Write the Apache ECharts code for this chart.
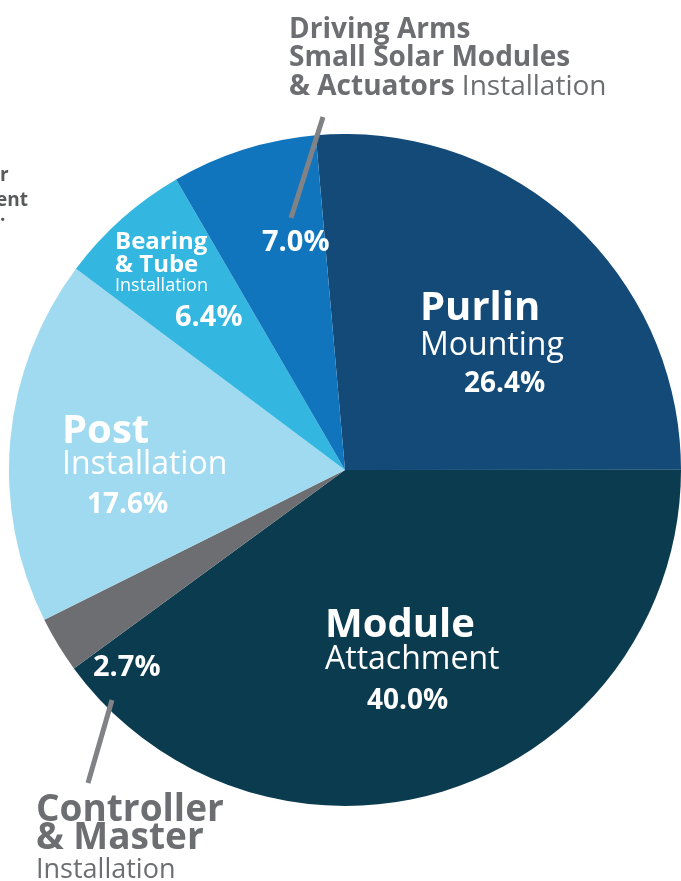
<!DOCTYPE html>
<html>
<head>
<meta charset="utf-8">
<script src="https://cdn.jsdelivr.net/npm/echarts@6/dist/echarts.min.js"></script>
<style>
html,body{margin:0;padding:0;background:#ffffff;}
#chart{width:681px;height:881px;}
</style>
</head>
<body>
<div id="chart"></div>
<script>
// ---- data ----
const categories = ['Purlin Mounting', 'Module Attachment', 'Controller & Master Installation', 'Post Installation', 'Bearing & Tube Installation', 'Driving Arms Small Solar Modules & Actuators Installation'];
const shares = [26.4, 40.0, 2.7, 17.6, 6.4, 7.0];
const titleWords = ['Purlin', 'Module', '', 'Post', 'Bearing\n& Tube', ''];
const subWords = ['Mounting', 'Attachment', '', 'Installation', 'Installation', ''];
const drivingLabel = ['Driving Arms', 'Small Solar Modules', '& Actuators', 'Installation'];
const controllerLabel = ['Controller', '& Master', 'Installation'];
const partialLabel = ['r', 'ent', '.'];
const sliceColors = ['#134a78', '#0a3b4f', '#6d6e71', '#a0daf0', '#33b7e0', '#1175be'];

// ---- styles / layout ----
const FF = '"Open Sans", "Noto Sans", sans-serif';
const GRAY = '#6d6e71';
const labelPos = [
  { x: 420, y: 289 },
  { x: 325, y: 607 },
  { x: 93, y: 654 },
  { x: 62, y: 414 },
  { x: 115, y: 231 },
  { x: 262, y: 229 }
];
function big(lh) { return { fontFamily: FF, fontWeight: 'bold', fontSize: 40, color: '#fff', lineHeight: lh }; }
function sub(lh) { return { fontFamily: FF, fontSize: 32, color: '#fff', lineHeight: lh }; }
function pct(lh, pad) { return { fontFamily: FF, fontWeight: 'bold', fontSize: 28, color: '#fff', lineHeight: lh, padding: [0, 0, 0, pad] }; }

const rich = {
  t0: big(40), s0: sub(34), p0: pct(42, 44),
  t1: big(38), s1: sub(30), p1: pct(52, 42),
  t3: big(36), s3: sub(30), p3: pct(50, 25),
  bt: { fontFamily: FF, fontWeight: 'bold', fontSize: 24, color: '#fff', lineHeight: 23 },
  bs: { fontFamily: FF, fontSize: 18, color: '#fff', lineHeight: 17 },
  p4: { fontFamily: FF, fontWeight: 'bold', fontSize: 29, color: '#fff', lineHeight: 47, padding: [0, 0, 0, 60] },
  q: { fontFamily: FF, fontWeight: 'bold', fontSize: 29, color: '#fff', lineHeight: 28 }
};

function fmt(p) {
  const i = p.dataIndex;
  const v = shares[i].toFixed(1) + '%';
  if (i === 0 || i === 1 || i === 3) {
    return '{t' + i + '|' + titleWords[i] + '}\n{s' + i + '|' + subWords[i] + '}\n{p' + i + '|' + v + '}';
  }
  if (i === 4) {
    return titleWords[i].split('\n').map(function (w) { return '{bt|' + w + '}'; }).join('\n') +
      '\n{bs|' + subWords[i] + '}\n{p4|' + v + '}';
  }
  return '{q|' + v + '}';
}

const chart = echarts.init(document.getElementById('chart'), null, { renderer: 'canvas' });
chart.setOption({
  animation: false,
  backgroundColor: '#ffffff',
  series: [{
    type: 'pie',
    center: [345, 470],
    radius: 336,
    startAngle: 95,
    clockwise: true,
    avoidLabelOverlap: false,
    minShowLabelAngle: 0,
    emphasis: { disabled: true },
    itemStyle: { borderWidth: 0 },
    label: { show: true, position: 'inside', formatter: fmt, rich: rich },
    labelLine: { show: false },
    labelLayout: function (p) {
      const pos = labelPos[p.dataIndex];
      return { x: pos.x, y: pos.y, align: 'left', verticalAlign: 'top' };
    },
    data: categories.map(function (c, i) {
      return { name: c, value: shares[i], itemStyle: { color: sliceColors[i] } };
    })
  }],
  graphic: [
    { type: 'line', z: 100, shape: { x1: 291, y1: 218, x2: 323, y2: 117 }, style: { stroke: '#808285', lineWidth: 5 } },
    { type: 'line', z: 100, shape: { x1: 112, y1: 700, x2: 88, y2: 783 }, style: { stroke: '#808285', lineWidth: 5 } },
    {
      type: 'text', left: 289, top: 16, z: 100,
      style: {
        text: '{b|' + drivingLabel[0] + '}\n{b|' + drivingLabel[1] + '}\n{b|' + drivingLabel[2] + '}{r| ' + drivingLabel[3] + '}',
        rich: {
          b: { fontFamily: FF, fontWeight: 'bold', fontSize: 28, fill: GRAY, lineHeight: 28.5 },
          r: { fontFamily: FF, fontSize: 28, fill: GRAY, lineHeight: 28.5 }
        }
      }
    },
    {
      type: 'text', left: 36, top: 792, z: 100,
      style: {
        text: '{b|' + controllerLabel[0] + '}\n{b|' + controllerLabel[1] + '}\n{r|' + controllerLabel[2] + '}',
        rich: {
          b: { fontFamily: FF, fontWeight: 'bold', fontSize: 37, fill: GRAY, lineHeight: 28 },
          r: { fontFamily: FF, fontSize: 27, fill: GRAY, lineHeight: 36 }
        }
      }
    },
    { type: 'text', x: 0, y: 163, z: 100, style: { text: partialLabel[0], font: 'bold 19px ' + FF, fill: '#58595b', verticalAlign: 'top', lineHeight: 25 } },
    { type: 'text', x: -4, y: 188, z: 100, style: { text: partialLabel[1], font: 'bold 19px ' + FF, fill: '#58595b', verticalAlign: 'top', lineHeight: 25 } },
    { type: 'text', x: 0, y: 203, z: 100, style: { text: partialLabel[2], font: 'bold 19px ' + FF, fill: '#58595b', verticalAlign: 'top', lineHeight: 25 } }
  ]
});
</script>
</body>
</html>
